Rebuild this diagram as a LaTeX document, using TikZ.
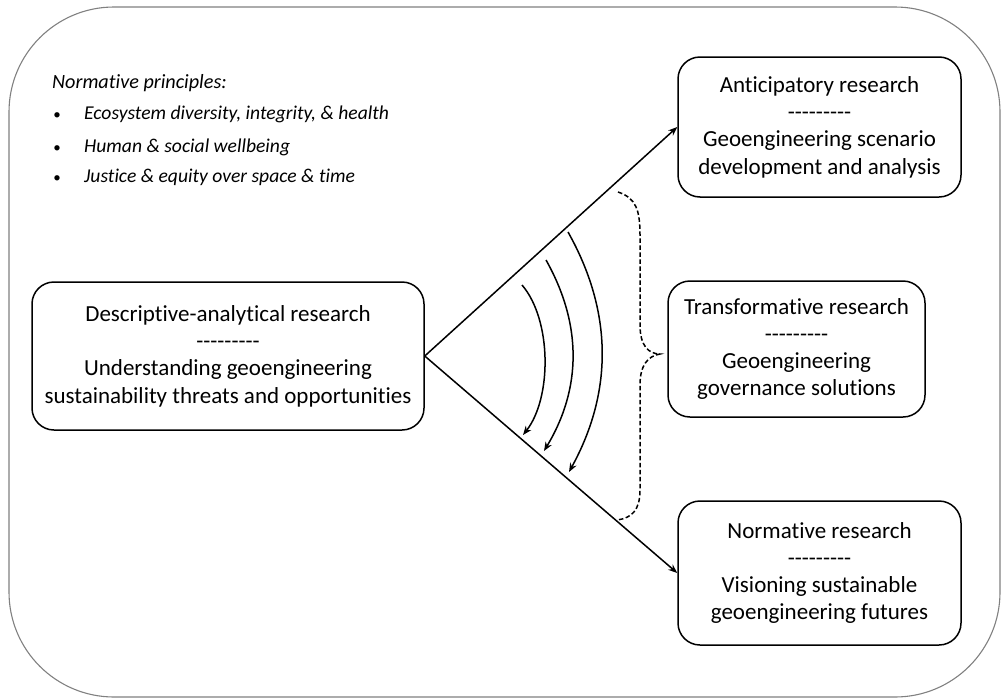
\documentclass[tikz,border=0pt]{standalone}
\usepackage{fontspec}
\setmainfont{Carlito}
\newfontfamily\carl{Carlito}[Ligatures=NoCommon]
\usetikzlibrary{arrows.meta}
\begin{document}
\begin{tikzpicture}[x=1pt,y=-1pt,
  rbox/.style={draw=black, line width=1.5pt, rounded corners=22pt, align=center,
    font=\carl\fontsize{23}{27.3}\selectfont, inner sep=0pt},
  link/.style={line width=1.5pt, -{Stealth[length=9pt,width=7pt]}},
  wave/.style={line width=1.5pt, -{Stealth[length=9pt,width=7pt]}},
  brace/.style={line width=1.5pt, dash pattern=on 4.5pt off 2.5pt},
  bul/.style={anchor=base west, font=\carl\fontsize{19.6}{22}\selectfont\itshape, inner sep=0pt},
  dot/.style={anchor=base, font=\carl\fontsize{15}{18}\selectfont, inner sep=0pt}]
\useasboundingbox (0,0) rectangle (1001,699);
\draw[draw=gray, line width=1.1pt, rounded corners=105pt] (9,7) rectangle (1000,697);

\node[rbox, minimum width=392pt, minimum height=148pt] (desc) at (228,356)
  {Descriptive-analytical research\\---------\\Understanding geoengineering\\sustainability threats and opportunities};
\node[rbox, minimum width=283pt, minimum height=140pt] (anti) at (819.5,127)
  {Anticipatory research\\---------\\Geoengineering scenario\\development and analysis};
\node[rbox, minimum width=257pt, minimum height=136pt] (trans) at (796.5,349)
  {Transformative research\\---------\\Geoengineering\\governance solutions};
\node[rbox, minimum width=283pt, minimum height=144pt] (norm) at (819.5,573)
  {Normative research\\---------\\Visioning sustainable\\geoengineering futures};

\draw[link] (desc.east) -- (anti.west);
\draw[link] (desc.east) -- (norm.west);

\coordinate (a1s) at (522,285); \coordinate (a1e) at (523,435);
\coordinate (a2s) at (546,260); \coordinate (a2e) at (544,451);
\coordinate (a3s) at (568,232); \coordinate (a3e) at (569,472);
\draw[wave] (a1s) .. controls (552,320) and (552,398) .. (a1e);
\draw[wave] (a2s) .. controls (582,324) and (582,388) .. (a2e);
\draw[wave] (a3s) .. controls (613,312) and (613,392) .. (a3e);

\coordinate (bt) at (618,192); \coordinate (bm) at (660,354); \coordinate (bb) at (617,520);
\draw[brace] (bt) .. controls (636,198) and (640,210) .. (640,235) -- (640,325)
  .. controls (640,345) and (648,354) .. (bm)
  .. controls (648,356) and (640,365) .. (640,385) -- (640,490)
  .. controls (640,510) and (632,518) .. (bb);

\node[anchor=base west, font=\carl\fontsize{20.2}{23}\selectfont\itshape, inner sep=0pt] (np) at (52,88) {Normative principles:};
\node[dot] (b1) at (57,119) {•};
\node[bul] (t1) at (84,119) {Ecosystem diversity, integrity, \& health};
\node[dot] (b2) at (57,152) {•};
\node[bul] (t2) at (84,152) {Human \& social wellbeing};
\node[dot] (b3) at (57,182) {•};
\node[bul] (t3) at (84,182) {Justice \& equity over space \& time};
\end{tikzpicture}
\end{document}
